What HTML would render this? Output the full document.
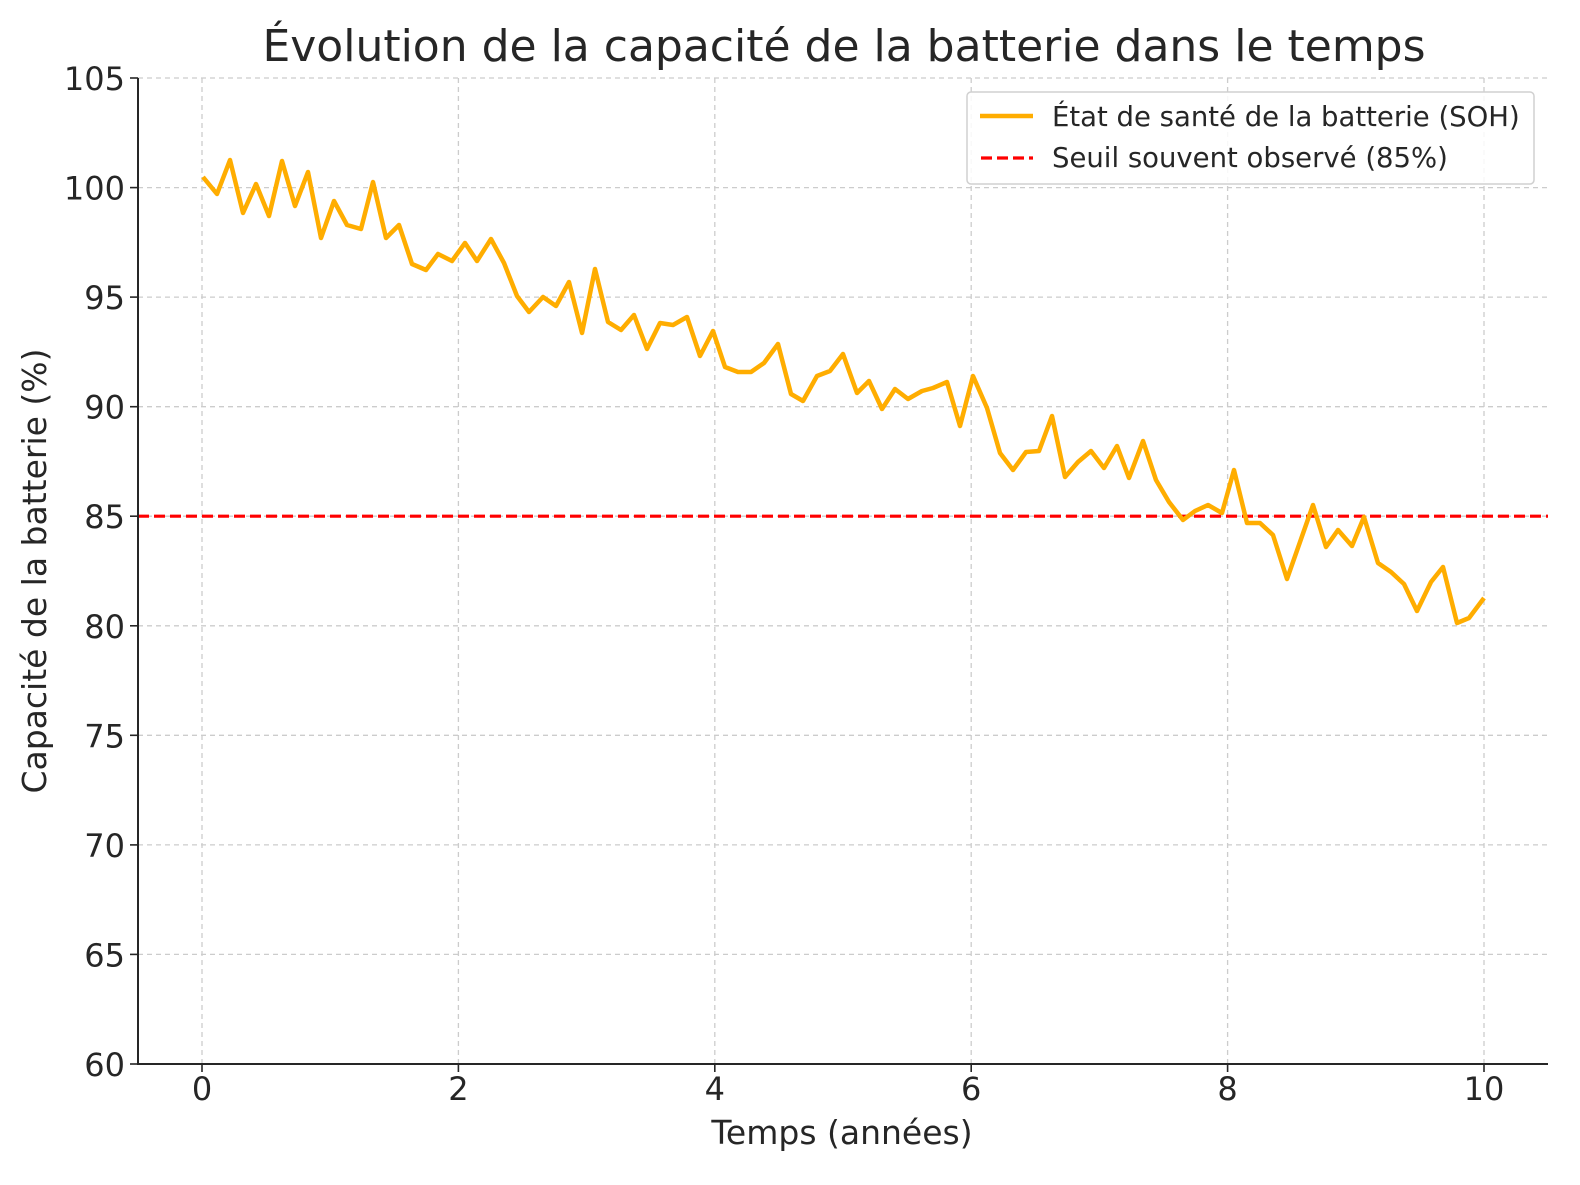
<!DOCTYPE html>
<html><head><meta charset="utf-8"><style>
html,body{margin:0;padding:0;background:#fff}
svg text{font-family:"DejaVu Sans","Liberation Sans",sans-serif;fill:#262626}
</style></head><body>
<svg width="1580" height="1180" viewBox="0 0 1580 1180" xmlns="http://www.w3.org/2000/svg">
<rect width="1580" height="1180" fill="#fff"/>
<g stroke="#cccccc" stroke-width="1.3" stroke-dasharray="5,4">
<line x1="202" y1="78" x2="202" y2="1064"/><line x1="458.4" y1="78" x2="458.4" y2="1064"/><line x1="714.8" y1="78" x2="714.8" y2="1064"/><line x1="971.2" y1="78" x2="971.2" y2="1064"/><line x1="1227.6" y1="78" x2="1227.6" y2="1064"/><line x1="1484" y1="78" x2="1484" y2="1064"/>
<line x1="138" y1="78" x2="1548" y2="78"/><line x1="138" y1="187.6" x2="1548" y2="187.6"/><line x1="138" y1="297.1" x2="1548" y2="297.1"/><line x1="138" y1="406.7" x2="1548" y2="406.7"/><line x1="138" y1="516.2" x2="1548" y2="516.2"/><line x1="138" y1="625.8" x2="1548" y2="625.8"/><line x1="138" y1="735.3" x2="1548" y2="735.3"/><line x1="138" y1="844.9" x2="1548" y2="844.9"/><line x1="138" y1="954.4" x2="1548" y2="954.4"/>
</g>
<line x1="138" y1="516.2" x2="1548" y2="516.2" stroke="#ff0000" stroke-width="3.2" stroke-dasharray="11,5"/>
<polyline fill="none" stroke="#ffad00" stroke-width="4.5" stroke-linejoin="round" points="203,177 217,194 230,160 243,213 256,184 269,216 282,161 295,206 308,172 321,238 334,201 347,225 361,229 373,182 386,238 399,225 412,264 426,270 438,254 452,261 465,243 477,261 491,239 504,263 517,296 529,312 543,297 556,306 569,282 582,333 595,269 608,322 621,330 634,315 647,349 660,323 673,325 687,317 700,356 713,331 725,367 738,372 751,372 764,363 778,344 791,394 803,401 817,376 830,371 843,354 857,393 869,381 882,409 895,389 908,399 922,391 933,388 947,382 960,426 973,376 987,408 1000,453 1013,470 1026,452 1039,451 1052,416 1065,477 1078,462 1091,451 1104,468 1117,446 1129,478 1143,441 1156,480 1169,502 1183,520 1195,511 1208,505 1222,513 1234,470 1247,523 1260,523 1273,535 1287,579 1300,542 1313,505 1326,547 1338,530 1352,546 1364,517 1378,563 1391,572 1404,584 1417,611 1431,582 1443,567 1457,623 1469,618 1484,598"/>
<g stroke="#262626" stroke-width="2">
<line x1="138" y1="78" x2="138" y2="1065"/><line x1="137" y1="1064" x2="1548" y2="1064"/>
</g>
<g stroke="#262626" stroke-width="1.6">
<line x1="130" y1="78" x2="138" y2="78"/><line x1="130" y1="187.6" x2="138" y2="187.6"/><line x1="130" y1="297.1" x2="138" y2="297.1"/><line x1="130" y1="406.7" x2="138" y2="406.7"/><line x1="130" y1="516.2" x2="138" y2="516.2"/><line x1="130" y1="625.8" x2="138" y2="625.8"/><line x1="130" y1="735.3" x2="138" y2="735.3"/><line x1="130" y1="844.9" x2="138" y2="844.9"/><line x1="130" y1="954.4" x2="138" y2="954.4"/><line x1="130" y1="1064" x2="138" y2="1064"/>
<line x1="202" y1="1064" x2="202" y2="1072"/><line x1="458.4" y1="1064" x2="458.4" y2="1072"/><line x1="714.8" y1="1064" x2="714.8" y2="1072"/><line x1="971.2" y1="1064" x2="971.2" y2="1072"/><line x1="1227.6" y1="1064" x2="1227.6" y2="1072"/><line x1="1484" y1="1064" x2="1484" y2="1072"/>
</g>
<g font-size="32" text-anchor="end">
<text x="125" y="90">105</text><text x="125" y="199.6">100</text><text x="125" y="309">95</text><text x="125" y="418.7">90</text><text x="125" y="528.2">85</text><text x="125" y="637.8">80</text><text x="125" y="747.3">75</text><text x="125" y="856.9">70</text><text x="125" y="966.4">65</text><text x="125" y="1076">60</text>
</g>
<g font-size="32" text-anchor="middle">
<text x="202" y="1100">0</text><text x="458.4" y="1100">2</text><text x="714.8" y="1100">4</text><text x="971.2" y="1100">6</text><text x="1227.6" y="1100">8</text><text x="1484" y="1100">10</text>
</g>
<text x="842" y="1144" font-size="33" text-anchor="middle">Temps (années)</text>
<text transform="translate(46,571) rotate(-90)" font-size="33" text-anchor="middle">Capacité de la batterie (%)</text>
<text x="844" y="61" font-size="44" text-anchor="middle">Évolution de la capacité de la batterie dans le temps</text>
<rect x="967" y="92" width="567" height="92" rx="4" fill="#fff" fill-opacity="0.85" stroke="#d0d0d0" stroke-width="1.5"/>
<line x1="980" y1="116" x2="1033" y2="116" stroke="#ffad00" stroke-width="4.5"/>
<line x1="981" y1="158" x2="1033" y2="158" stroke="#ff0000" stroke-width="3.2" stroke-dasharray="11,5"/>
<g font-size="27.5">
<text x="1052" y="126">État de santé de la batterie (SOH)</text>
<text x="1052" y="167">Seuil souvent observé (85%)</text>
</g>
</svg>
</body></html>
